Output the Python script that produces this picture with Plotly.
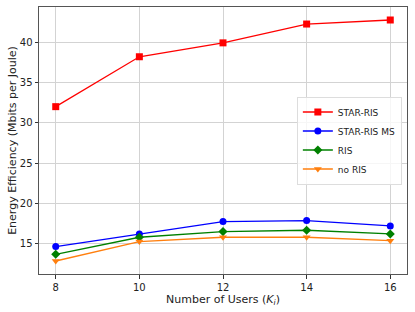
import plotly.graph_objects as go

users = [8, 10, 12, 14, 16]
star_ris = [32.0, 38.18, 39.9, 42.23, 42.73]
star_ris_ms = [14.67, 16.24, 17.77, 17.9, 17.23]
ris = [13.72, 15.83, 16.53, 16.7, 16.24]
no_ris = [12.89, 15.29, 15.83, 15.83, 15.41]

series = [
    ("STAR-RIS", star_ris, "#ff0000", "square"),
    ("STAR-RIS MS", star_ris_ms, "#0000ff", "circle"),
    ("RIS", ris, "#008000", "diamond"),
    ("no RIS", no_ris, "#ff7f0e", "triangle-down"),
]

fig = go.Figure()
for name, vals, col, sym in series:
    fig.add_trace(go.Scatter(
        x=users, y=vals, name=name, mode="lines+markers",
        line=dict(color=col, width=1.3),
        marker=dict(symbol=sym, size=7, color=col),
    ))

axis_common = dict(
    showline=True, linecolor="#555555", linewidth=1, mirror=True,
    showgrid=True, gridcolor="#d3d3d3", gridwidth=0.8,
    ticks="outside", ticklen=3.5, tickcolor="#333333",
    tickfont=dict(family="DejaVu Sans", size=10, color="#222222"),
    zeroline=False, automargin=False,
)

fig.update_layout(
    width=415, height=312,
    margin=dict(l=39, r=8, t=7, b=38),
    paper_bgcolor="white", plot_bgcolor="white",
    font=dict(family="DejaVu Sans", size=10, color="#222222"),
    xaxis=dict(range=[7.6, 16.4], tickvals=users,
               title=dict(text="Number of Users (<i>K<sub>i</sub></i>)", font=dict(size=11), standoff=3),
               **axis_common),
    yaxis=dict(range=[11.28, 44.34], tickvals=[15, 20, 25, 30, 35, 40],
               title=dict(text="Energy Efficiency (Mbits per Joule)", font=dict(size=11), standoff=0),
               **axis_common),
    legend=dict(x=0.986, y=0.5, xanchor="right", yanchor="middle",
                bgcolor="rgba(255,255,255,0.8)", bordercolor="#dddddd", borderwidth=1,
                font=dict(size=9), tracegroupgap=0, itemwidth=30),
    showlegend=True,
)

fig.write_html("out.html", config={"displayModeBar": False},
               post_script="document.body.style.margin='0';")
